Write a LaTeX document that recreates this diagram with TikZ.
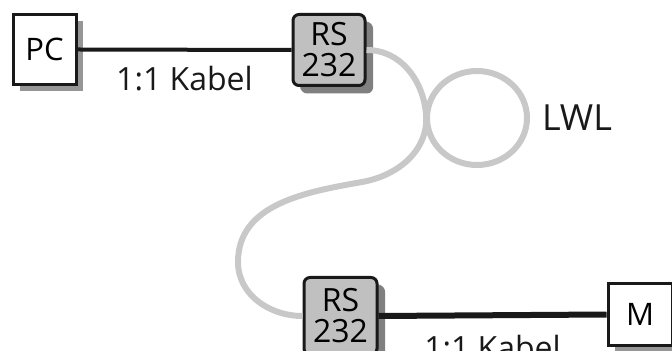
\documentclass[tikz,border=0pt]{standalone}
\usepackage{fontspec}
\setmainfont{Open Sans}
\usetikzlibrary{shadows}
\definecolor{fibre}{RGB}{200,200,200}
\definecolor{rsfill}{RGB}{192,192,192}
\definecolor{rsshade}{RGB}{128,128,128}
\definecolor{boxshade}{RGB}{150,150,150}
\tikzset{
	devbox/.style={draw=black!90, line width=1.5pt, fill=white, inner sep=0pt, font=\fontsize{15.5}{15.5}\selectfont,
		drop shadow={shadow xshift=3.5pt, shadow yshift=-3.5pt, fill=boxshade, opacity=1}},
	rsbox/.style={devbox, rounded corners=3pt, fill=rsfill, align=center, minimum width=36pt,
		font=\fontsize{16}{15.5}\selectfont,
		drop shadow={shadow xshift=4pt, shadow yshift=-4pt, fill=rsshade, opacity=1}},
	cablelabel/.style={font=\fontsize{16}{16}\selectfont, text=black!90}
}

\begin{document}
\begin{tikzpicture}[x=0.5pt, y=-0.5pt]
			%%%%% START %%%%%
			
			\useasboundingbox (0, 0) rectangle (672, 351);
			\clip (0, 0) rectangle (672, 351);
			
			\node[devbox, minimum width=31.5pt, minimum height=35pt] (pc) at (44.5, 49.5) {PC};
			\node[rsbox, minimum height=35.5pt] (rsa) at (329, 50) {RS\\232};
			\node[rsbox, minimum width=36.5pt, minimum height=38.5pt] (rsb) at (340.5, 316) {RS\\232};
			\node[devbox, minimum width=32pt, minimum height=30.5pt] (m) at (640, 314.5) {M};
			
			% glass fibre with loop
			\coordinate (cross) at (426, 114);
			\coordinate (loopc) at (477, 118);
			\draw[fibre, line width=3pt] (loopc) ellipse (50 and 47);
			\draw[fibre, line width=3pt] (rsa.east) to[out=0, in=95] (cross)
				to[out=-85, in=10] (362, 182) to[out=190, in=90] (238, 262)
				to[out=-90, in=180] (rsb.west);
			\node[cablelabel, font=\fontsize{18}{18}\selectfont] (lwl) at (577, 118) {LWL};
			
			% copper cables
			\draw[black!90, line width=2pt] (pc.east) -- (rsa.west) node[cablelabel, midway, below=4pt] (kabela) {1:1 Kabel};
			\draw[black!90, line width=3pt] (rsb.east) -- (m.west) node[cablelabel, midway, below=5pt] (kabelb) {1:1 Kabel};
			
			%%%%% END %%%%%
		\end{tikzpicture}
\end{document}
